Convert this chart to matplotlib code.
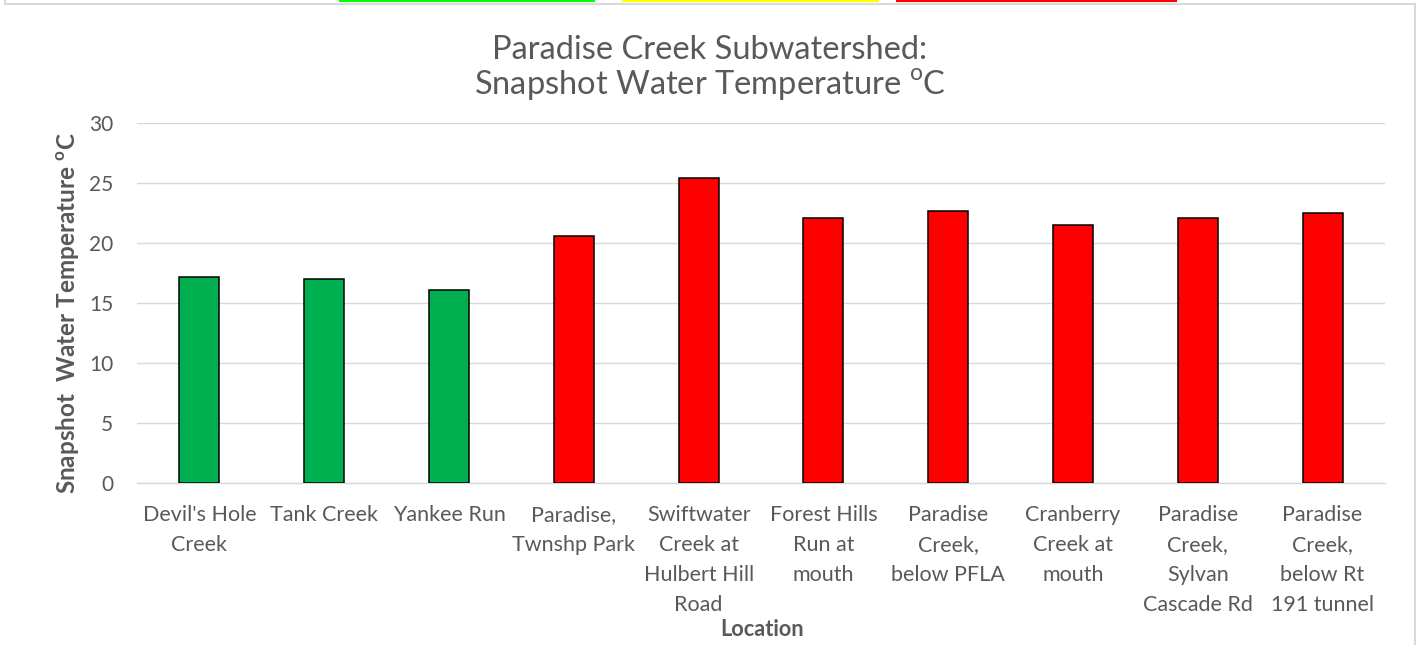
#!/usr/bin/env python3
# -*- coding: utf-8 -*-

import numpy as np
import matplotlib
matplotlib.use("Agg")
import matplotlib.pyplot as plt
from matplotlib.lines import Line2D

plt.rcParams["font.family"] = ["Lato", "DejaVu Sans"]
plt.rcParams["mathtext.fontset"] = "custom"
plt.rcParams["mathtext.rm"] = "Lato"
plt.rcParams["mathtext.bf"] = "Lato:bold"

LOCATIONS = [
    "Devil's Hole\nCreek",
    "Tank Creek",
    "Yankee Run",
    "Paradise,\nTwnshp Park",
    "Swiftwater\nCreek at\nHulbert Hill\nRoad",
    "Forest Hills\nRun at\nmouth",
    "Paradise\nCreek,\nbelow PFLA",
    "Cranberry\nCreek at\nmouth",
    "Paradise\nCreek,\nSylvan\nCascade Rd",
    "Paradise\nCreek,\nbelow Rt\n191 tunnel",
]
TEMPS = [17.2, 17.0, 16.1, 20.6, 25.4, 22.1, 22.7, 21.5, 22.1, 22.5]
STATUS = ["good", "good", "good", "poor", "poor", "poor", "poor", "poor", "poor", "poor"]
Y_TICKS = [0, 5, 10, 15, 20, 25, 30]

STATUS_COLORS = {"good": "#00B050", "poor": "#FF0000"}
TEXT = "#595959"
GRID = "#D9D9D9"

W, H = 1420, 645
fig = plt.figure(figsize=(W / 100, H / 100), dpi=100)
ax = fig.add_axes([137 / W, 1 - 483 / H, (1385 - 137) / W, (483 - 123) / H])

x = np.arange(len(LOCATIONS))
colors = [STATUS_COLORS[s] for s in STATUS]
ax.bar(x, TEMPS, width=0.32, color=colors, edgecolor="black", linewidth=1.1, zorder=3)

ax.set_xlim(-0.5, len(LOCATIONS) - 0.5)
ax.set_ylim(0, 30)
ax.set_yticks(Y_TICKS)
ax.set_xticks(x)
ax.set_xticklabels(LOCATIONS, fontsize=15.5, color=TEXT, linespacing=1.62, va="top")
ax.tick_params(axis="y", length=0, pad=17, labelsize=15, labelcolor=TEXT)
ax.tick_params(axis="x", length=0, pad=16)

ax.grid(axis="y", color=GRID, linewidth=1.0, zorder=0)
for side in ["top", "right", "left"]:
    ax.spines[side].set_visible(False)
ax.spines["bottom"].set_color(GRID)
ax.spines["bottom"].set_linewidth(1.0)

fig.text(68 / W, 1 - 313 / H, r"Snapshot  Water Temperature $^{\mathbf{o}}$C", rotation=90,
         ha="center", va="center", fontsize=17.5, fontweight="bold", color=TEXT)
fig.text(762 / W, 1 - 629 / H, "Location", ha="center", va="center",
         fontsize=15.7, fontweight="bold", color=TEXT)

fig.text(710 / W, 1 - 50 / H, "Paradise Creek Subwatershed:", ha="center",
         va="center", fontsize=23.5, color=TEXT)
fig.text(710 / W, 1 - 85 / H, r"Snapshot Water Temperature $^{\mathrm{o}}$C",
         ha="center", va="center", fontsize=23.5, color=TEXT)

# chart frame (bottom edge falls outside the image)
for xs, ys in [([5, 5], [-10, 4]), ([5, 1415], [4, 4]), ([1415, 1415], [4, 655])]:
    fig.add_artist(Line2D([v / W for v in xs], [1 - v / H for v in ys],
                          color=GRID, linewidth=1.5))

# coloured strips peeking in at the top edge
for x0, x1, c in [(340, 594, "#00FF00"), (623, 878, "#FFFF00"), (897, 1176, "#FF0000")]:
    fig.add_artist(Line2D([x0 / W, x1 / W], [1 - 0.8 / H, 1 - 0.8 / H],
                          color=c, linewidth=1.5))

fig.savefig("out.png", dpi=100)
